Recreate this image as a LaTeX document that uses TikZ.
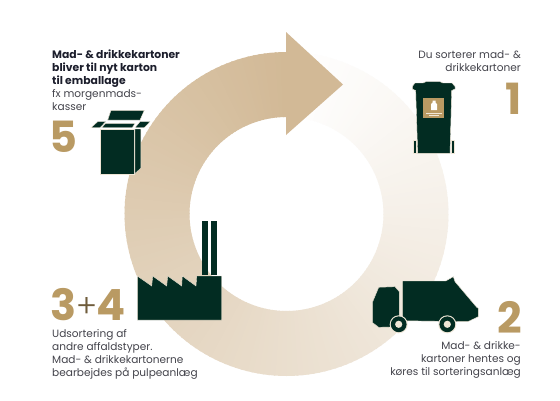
\documentclass[tikz,border=0pt]{standalone}
\usepackage{fontspec}
\setmainfont{Poppins}
\newfontfamily\lightfont{Poppins Light}
\definecolor{ringend}{HTML}{D2B996}
\definecolor{dgreen}{HTML}{022C22}
\definecolor{gold}{HTML}{B99A63}
\definecolor{cream}{HTML}{EFE6D6}
\definecolor{txt}{HTML}{44444C}
\definecolor{txtb}{HTML}{1C1E2C}
\tikzset{
  icon/.style={fill=dgreen,draw=cream,line width=0.4pt,line join=miter},
  body/.style={inner sep=0pt,text=txt,font=\fontsize{10.55}{13}\selectfont},
  head/.style={inner sep=0pt,text=txtb,font=\fontsize{10.8}{13}\selectfont\bfseries},
  num/.style={inner sep=0pt,text=gold,font=\fontsize{43}{43}\selectfont\bfseries},
}
\begin{document}
\begin{tikzpicture}[x=1pt,y=-1pt]
\useasboundingbox (0,0) rectangle (560,400);
\fill[white] (0,0) rectangle (560,400);
% ring with conic gradient
\begin{scope}[shift={(286.5,214)}]
\foreach \i in {0,...,179}{
  \pgfmathsetmacro\aa{-90+2*\i}
  \pgfmathsetmacro\ab{\aa+ (\i<179 ? 2.5 : 2)}
  \pgfmathsetmacro\pct{100*((\i+0.5)/180)^1.1}
  \fill[ringend!\pct!white] (\aa:162) -- (\ab:162) -- (\ab:97) -- (\aa:97) -- cycle;
}
\end{scope}
\fill[ringend] (286,32) -- (343,84.5) -- (286,135) -- cycle;
% box
\path[icon] (100,129) rectangle (133.8,173.8);
\path[icon] (134.8,129) -- (140.9,129) -- (140.9,168) -- (134.8,173.8) -- cycle;
\path[icon] (91,127.7) -- (97.7,121.7) -- (105.7,121.7) -- (100,127.7) -- cycle;
\path[icon] (101.7,127.7) -- (105.7,123.3) -- (135,123.3) -- (132.3,127.7) -- cycle;
\path[icon] (111,110.3) -- (144.3,110.3) -- (140,120) -- (107.7,120) -- cycle;
\path[icon] (135,127.7) -- (140,121.7) -- (150,121.7) -- (144.3,127.7) -- cycle;
% bin
\path[icon] (426,81.7) -- (440,81.7) -- (443,83) -- (452,83) -- (455,86.5) -- (455,89) -- (451.7,90.5) -- (450,153.3) -- (417.7,153.3) -- (415.7,90.5) -- (412.3,89) -- (412.3,86.5) -- (415,83) -- (423,83) -- cycle;
\path[icon] (413,140) rectangle (416.3,153.3);
\path[icon] (451,140) rectangle (454.3,153.3);
\fill[gold] (423.3,98.3) rectangle (444.3,118.3);
\fill[white] (432.5,100.5) -- (435.5,100.5) -- (435.5,102.5) -- (437,104) -- (437,110) -- (431,110) -- (431,104) -- (432.5,102.5) -- cycle;
\fill[cream] (426,112.5) rectangle (442,113.5);
\fill[cream] (429,114.8) rectangle (439,115.5);
% truck
\path[icon] (372.7,301.7) -- (378.7,287.3) -- (395,286.7) -- (399.3,291.7) -- (399.3,326.7) -- (378.7,327.3) -- (372.7,322.7) -- cycle;
\path[icon] (402.3,281) -- (445.7,281) -- (453.3,276.7) -- (455,281.7) -- (476.7,307.3) -- (478.3,308.3) -- (478.3,316.7) -- (467.7,321.7) -- (402.3,320.7) -- cycle;
\foreach \cx in {398.7,447.3}{
  \fill[cream] (\cx,324.3) circle[radius=9];
  \fill[dgreen] (\cx,324.3) circle[radius=7.9];
  \fill[cream] (\cx,324.3) circle[radius=3.6];
}
% factory
\path[icon] (137.3,320) -- (137.3,276) -- (151.7,286) -- (152.7,276) -- (166.7,286) -- (167.7,276) -- (181.7,286) -- (182.3,276) -- (196,286) -- (196.7,276) -- (221.7,276) -- (221.7,320) -- cycle;
\fill[dgreen] (201.7,221) rectangle (207.7,275);
\fill[dgreen] (211,221) rectangle (216.7,275);
% texts
\node[head,anchor=base west,align=left] (t5a) at (52,84) {Mad- \& drikkekartoner\\bliver til nyt karton\\til emballage};
\node[body,anchor=base west,align=left] (t5b) at (52,110) {fx morgenmads-\\kasser};
\node[num,anchor=base west] (n5) at (49,152) {5};
\node[body,anchor=base east,align=right] (t1) at (521,71) {Du sorterer mad- \&\\drikkekartoner};
\node[num,anchor=base east] (n1) at (522,114) {1};
\node[num,anchor=base east] (n2) at (522,333) {2};
\node[body,anchor=base east,align=right] (t2) at (521,375) {Mad- \& drikke-\\kartoner hentes og\\køres til sorteringsanlæg};
\node[num,anchor=base west] (n3) at (50,320) {3};
\node[inner sep=0pt,anchor=base,text=gold!60!black,font=\fontsize{32}{32}\lightfont] (nplus) at (86.5,317) {+};
\node[num,anchor=base east] (n4) at (125.5,320) {4};
\node[body,anchor=base west,align=left] (t3) at (52,376) {Udsortering af\\andre affaldstyper.\\Mad- \& drikkekartonerne\\bearbejdes på pulpeanlæg};
\end{tikzpicture}
\end{document}
